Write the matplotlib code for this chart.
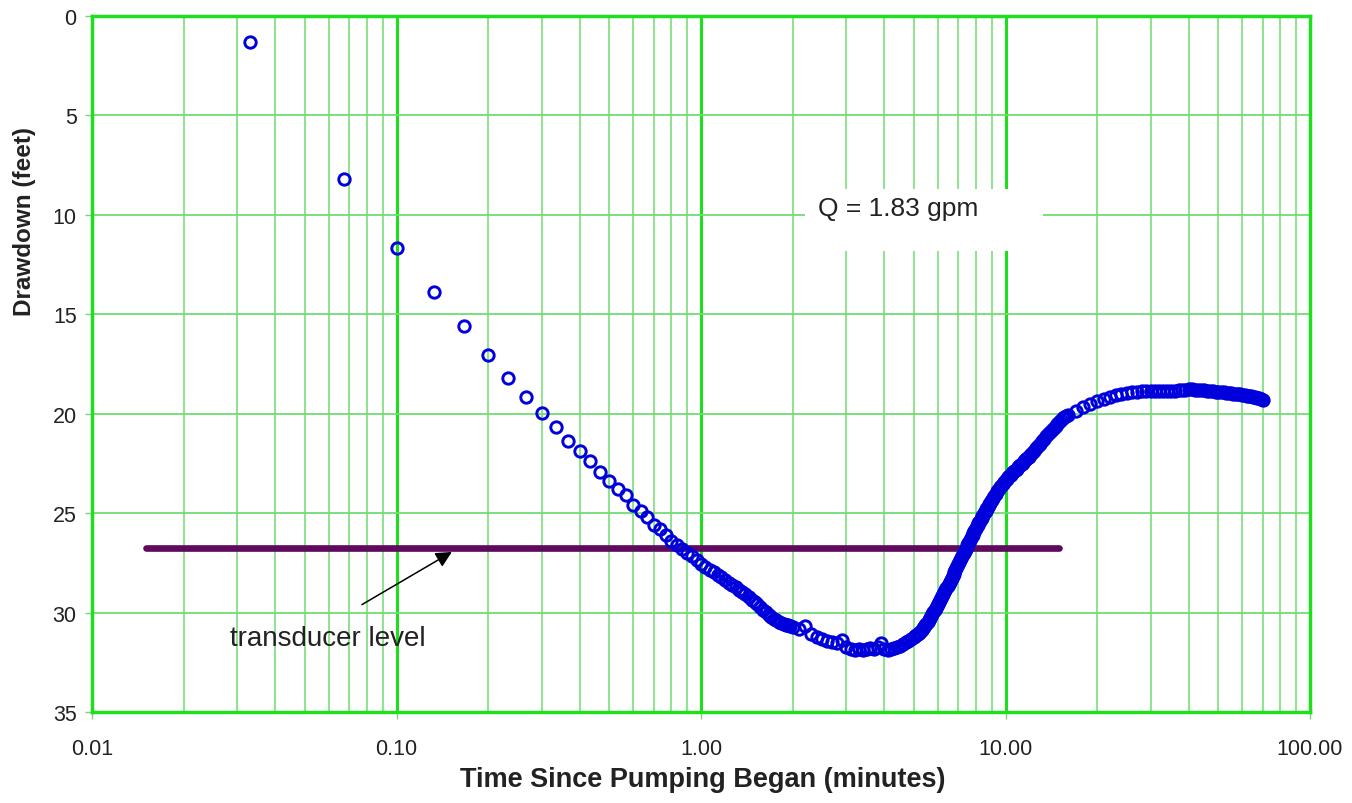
import matplotlib
matplotlib.use("Agg")
import matplotlib.pyplot as plt
from matplotlib.patches import Rectangle
from matplotlib.ticker import FixedLocator, FixedFormatter, LogLocator, NullFormatter

plt.rcParams['font.family'] = ['Liberation Sans', 'DejaVu Sans']

# time since pumping began (minutes) and drawdown (feet)
time_min = [
    0.033, 0.067, 0.100, 0.133, 0.167, 0.200, 0.233, 0.267, 0.300, 0.333,
    0.367, 0.400, 0.433, 0.467, 0.500, 0.533, 0.567, 0.600, 0.633, 0.667,
    0.700, 0.733, 0.767, 0.800, 0.833, 0.867, 0.900, 0.933, 0.967, 1.000,
    1.033, 1.067, 1.100, 1.133, 1.167, 1.200, 1.233, 1.267, 1.300, 1.333,
    1.367, 1.400, 1.433, 1.467, 1.500, 1.533, 1.567, 1.600, 1.633, 1.667,
    1.700, 1.733, 1.767, 1.800, 1.833, 1.867, 1.900, 1.933, 1.967, 2.000,
    2.1, 2.2, 2.3, 2.4, 2.5, 2.6, 2.7, 2.8, 2.9, 3.0,
    3.1, 3.2, 3.3, 3.4, 3.5, 3.6, 3.7, 3.8, 3.9, 4.0,
    4.1, 4.2, 4.3, 4.4, 4.5, 4.6, 4.7, 4.8, 4.9, 5.0,
    5.05, 5.10, 5.15, 5.20, 5.25, 5.30, 5.35, 5.40, 5.45, 5.50,
    5.55, 5.60, 5.65, 5.70, 5.75, 5.80, 5.85, 5.90, 5.95, 6.00,
    6.05, 6.10, 6.15, 6.20, 6.25, 6.30, 6.35, 6.40, 6.45, 6.50,
    6.55, 6.60, 6.65, 6.70, 6.75, 6.80, 6.85, 6.90, 6.95, 7.00,
    7.05, 7.10, 7.15, 7.20, 7.25, 7.30, 7.35, 7.40, 7.45, 7.50,
    7.55, 7.60, 7.65, 7.70, 7.75, 7.80, 7.85, 7.90, 7.95, 8.00,
    8.05, 8.10, 8.15, 8.20, 8.25, 8.30, 8.35, 8.40, 8.45, 8.50,
    8.55, 8.60, 8.65, 8.70, 8.75, 8.80, 8.85, 8.90, 8.95, 9.00,
    9.1, 9.2, 9.3, 9.4, 9.5, 9.6, 9.7, 9.8, 9.9, 10.0,
    10.1, 10.2, 10.3, 10.4, 10.5, 10.6, 10.7, 10.8, 10.9, 11.0,
    11.1, 11.2, 11.3, 11.4, 11.5, 11.6, 11.7, 11.8, 11.9, 12.0,
    12.2, 12.4, 12.6, 12.8, 13.0, 13.2, 13.4, 13.6, 13.8, 14.0,
    14.2, 14.4, 14.6, 14.8, 15.0, 15.2, 15.4, 15.6, 15.8,
    16, 17, 18, 19, 20, 21, 22, 23, 24, 25,
    26, 27, 28, 29, 30, 31, 32, 33, 34, 35,
    36, 37, 38, 39, 40, 41, 42, 43, 44, 45,
    46, 47, 48, 49, 50, 51, 52, 53, 54, 55,
    56, 57, 58, 59, 60, 61, 62, 63, 64, 65,
    66, 67, 68, 69, 70,
]
drawdown_ft = [
    1.30, 8.20, 11.65, 13.90, 15.60, 17.05, 18.20, 19.15, 19.96, 20.66,
    21.35, 21.85, 22.40, 22.95, 23.40, 23.80, 24.10, 24.60, 24.90, 25.20,
    25.60, 25.80, 26.10, 26.40, 26.60, 26.80, 27.00, 27.15, 27.35, 27.55,
    27.70, 27.85, 27.95, 28.10, 28.20, 28.35, 28.50, 28.60, 28.70, 28.85,
    28.95, 29.05, 29.20, 29.35, 29.45, 29.55, 29.70, 29.85, 29.95, 30.10,
    30.20, 30.30, 30.35, 30.45, 30.50, 30.55, 30.60, 30.65, 30.70, 30.75,
    30.85, 30.70, 31.10, 31.25, 31.35, 31.45, 31.50, 31.55, 31.40, 31.75,
    31.85, 31.90, 31.85, 31.90, 31.85, 31.80, 31.85, 31.75, 31.55, 31.85,
    31.90, 31.85, 31.80, 31.75, 31.70, 31.60, 31.50, 31.45, 31.35, 31.25,
    31.20, 31.14, 31.08, 31.02, 30.96, 30.88, 30.80, 30.72, 30.64, 30.56,
    30.47, 30.37, 30.28, 30.18, 30.09, 29.99, 29.89, 29.78, 29.68, 29.58,
    29.48, 29.37, 29.27, 29.16, 29.06, 28.96, 28.85, 28.75, 28.64, 28.54,
    28.44, 28.34, 28.24, 28.14, 28.04, 27.94, 27.84, 27.74, 27.64, 27.54,
    27.45, 27.35, 27.26, 27.16, 27.07, 26.98, 26.88, 26.79, 26.69, 26.60,
    26.51, 26.43, 26.34, 26.26, 26.17, 26.09, 26.00, 25.92, 25.83, 25.75,
    25.67, 25.60, 25.52, 25.45, 25.37, 25.30, 25.22, 25.15, 25.07, 25.00,
    24.93, 24.87, 24.80, 24.74, 24.67, 24.61, 24.54, 24.48, 24.41, 24.35,
    24.24, 24.13, 24.02, 23.91, 23.80, 23.71, 23.62, 23.52, 23.43, 23.34,
    23.27, 23.20, 23.13, 23.06, 23.00, 22.94, 22.88, 22.82, 22.76, 22.70,
    22.64, 22.58, 22.52, 22.46, 22.40, 22.34, 22.28, 22.22, 22.16, 22.10,
    21.98, 21.86, 21.74, 21.62, 21.50, 21.38, 21.26, 21.14, 21.02, 20.90,
    20.80, 20.70, 20.60, 20.50, 20.40, 20.32, 20.24, 20.16, 20.10,
    20.05, 19.85, 19.68, 19.52, 19.38, 19.26, 19.16, 19.08, 19.02, 18.97,
    18.93, 18.90, 18.88, 18.87, 18.86, 18.86, 18.86, 18.86, 18.85, 18.85,
    18.84, 18.83, 18.81, 18.79, 18.78, 18.78, 18.79, 18.81, 18.82, 18.83,
    18.85, 18.86, 18.87, 18.89, 18.90, 18.92, 18.93, 18.95, 18.96, 18.97,
    18.99, 19.00, 19.02, 19.03, 19.05, 19.07, 19.09, 19.11, 19.13, 19.15,
    19.17, 19.20, 19.23, 19.27, 19.32,
]

transducer_time = [0.015, 15.0]
transducer_level = [26.75, 26.75]

x_ticks = [0.01, 0.1, 1, 10, 100]
x_tick_labels = ['0.01', '0.10', '1.00', '10.00', '100.00']
y_ticks = [0, 5, 10, 15, 20, 25, 30, 35]

major_green = '#1ede1e'
minor_green = '#6fdc6f'

fig = plt.figure(figsize=(13.52, 8.04), dpi=100)
ax = fig.add_axes([92 / 1352, 1 - 713 / 804, 1218 / 1352, 696 / 804])

ax.set_xscale('log')
ax.set_xlim(0.01, 100)
ax.set_ylim(35, 0)

ax.xaxis.set_major_locator(FixedLocator(x_ticks))
ax.xaxis.set_major_formatter(FixedFormatter(x_tick_labels))
ax.xaxis.set_minor_locator(LogLocator(base=10, subs=range(2, 10)))
ax.xaxis.set_minor_formatter(NullFormatter())
ax.set_yticks(y_ticks)

ax.set_axisbelow(True)
ax.grid(which='major', axis='x', color=major_green, lw=2.2)
ax.grid(which='minor', axis='x', color=minor_green, lw=1.1)
ax.grid(which='major', axis='y', color=minor_green, lw=1.3)

for s in ax.spines.values():
    s.set_color(major_green)
    s.set_linewidth(2.5)

ax.tick_params(which='major', length=5, width=1, color='#88cc88',
               labelsize=15.5, labelcolor='#222222')
ax.tick_params(axis='x', which='major', pad=14)
ax.tick_params(axis='y', which='major', pad=6)
ax.tick_params(which='minor', length=0)

# white box behind the pumping-rate label
ax.add_patch(Rectangle((2.2, 8.7), 11.1, 3.1, facecolor='white',
                       edgecolor='none', zorder=1))
ax.text(2.42, 9.65, 'Q = 1.83 gpm', fontsize=19, color='#222222',
        ha='left', va='center', zorder=3)

ax.plot(transducer_time, transducer_level, color='#5e0a5e', lw=4.8,
        solid_capstyle='round', zorder=3)

ax.plot(time_min, drawdown_ft, 'o', ls='none', mfc='none', mec='#0000dd',
        ms=8.2, mew=2.1, zorder=4)

ax.annotate('', xy=(0.152, 26.95), xytext=(0.077, 29.6),
            arrowprops=dict(arrowstyle='-|>', color='black', lw=1.1,
                            mutation_scale=24, shrinkA=0, shrinkB=0),
            zorder=5)
ax.text(0.0595, 31.3, 'transducer level', fontsize=20, color='#222222',
        ha='center', va='center', zorder=5)

fig.text(703 / 1352, 1 - 780 / 804, 'Time Since Pumping Began (minutes)',
         fontsize=19.5, fontweight='bold', color='#222222',
         ha='center', va='center')
fig.text(25 / 1352, 1 - 222 / 804, 'Drawdown (feet)', fontsize=17.5,
         fontweight='bold', color='#222222', rotation=90,
         ha='center', va='center')

fig.savefig('out.png', dpi=100)
